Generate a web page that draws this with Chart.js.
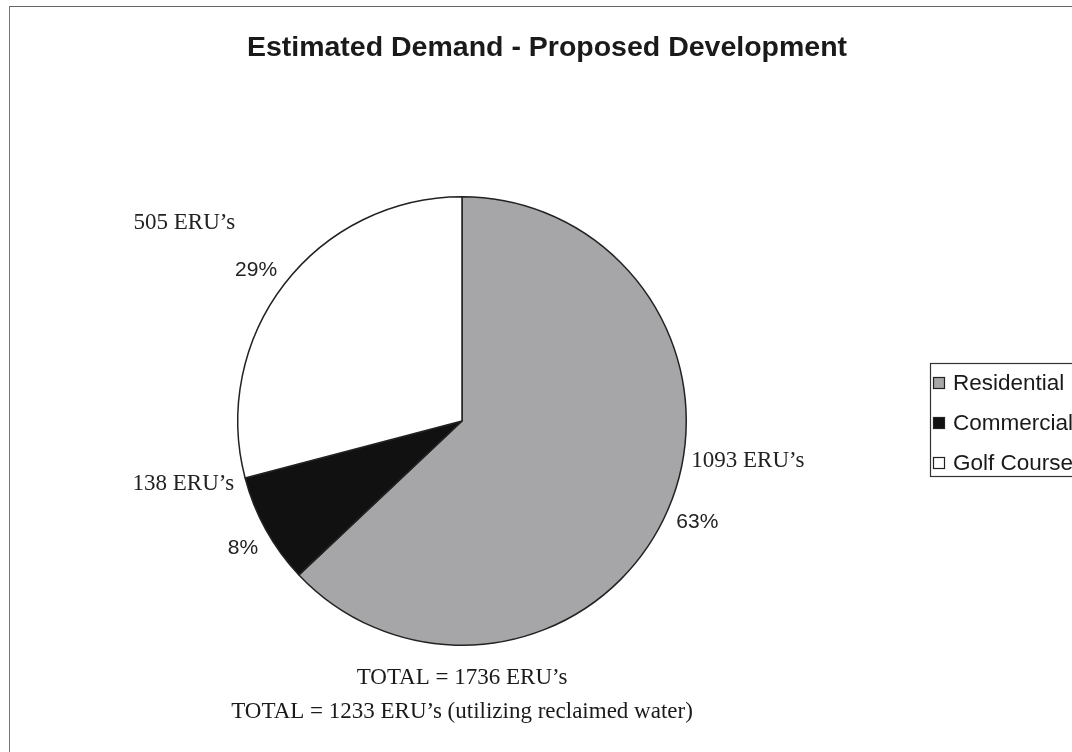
<!DOCTYPE html>
<html>
<head>
<meta charset="utf-8">
<script src="https://cdn.jsdelivr.net/npm/chart.js@4.4.1/dist/chart.umd.min.js"></script>
<style>
  html, body { margin: 0; padding: 0; background: #fff; }
  #wrap { position: relative; width: 1072px; height: 752px; overflow: hidden; }
  #frame { position: absolute; left: 9px; top: 6px; width: 1080px; height: 760px;
           border-top: 1.5px solid #666; border-left: 1.5px solid #777; box-sizing: border-box; }
  canvas { position: absolute; left: 0; top: 0; }
</style>
</head>
<body>
<div id="wrap">
  <div id="frame"></div>
  <canvas id="c" width="1072" height="752"></canvas>
</div>
<script>
const title = "Estimated Demand - Proposed Development";
const categories = ["Residential", "Commercial", "Golf Course"];
const eruValues = [1093, 138, 505];
const eruLabels = ["1093 ERU\u2019s", "138 ERU\u2019s", "505 ERU\u2019s"];
const totalLines = ["TOTAL = 1736 ERU\u2019s", "TOTAL = 1233 ERU\u2019s (utilizing reclaimed water)"];

const sliceColors = ["#a6a6a8", "#111111", "#ffffff"];
// offset of the ERU text relative to the percent label (style/position config)
const eruOffsets = [[15, -62, "left"], [-24, -64, "right"], [-42, -48, "right"]];
// small per-label nudge of the percent labels
const pctNudge = [[0, 0], [5, 3], [-3, 6]];

const total = eruValues.reduce((a, b) => a + b, 0);

const labelPlugin = {
  id: "labels",
  afterDraw(chart) {
    const ctx = chart.ctx;
    const meta = chart.getDatasetMeta(0);
    ctx.save();
    // title
    ctx.fillStyle = "#1a1a1a";
    ctx.font = "bold 28.5px 'Liberation Sans', Arial, sans-serif";
    ctx.textAlign = "center";
    ctx.textBaseline = "middle";
    ctx.fillText(title, 547, 48);

    meta.data.forEach((arc, i) => {
      const p = arc.getProps(["x", "y", "startAngle", "endAngle", "outerRadius"], true);
      const mid = (p.startAngle + p.endAngle) / 2;
      const r = p.outerRadius + 32;
      const px = p.x + Math.cos(mid) * r + pctNudge[i][0];
      const py = p.y + Math.sin(mid) * r + pctNudge[i][1];
      const pct = Math.round(eruValues[i] / total * 100) + "%";
      ctx.font = "21px 'Liberation Sans', Arial, sans-serif";
      ctx.textAlign = "center";
      ctx.textBaseline = "middle";
      ctx.fillStyle = "#222";
      ctx.fillText(pct, px, py);
      const w = ctx.measureText(pct).width;
      const off = eruOffsets[i];
      ctx.font = "23px 'Liberation Serif', 'Times New Roman', serif";
      ctx.textAlign = off[2];
      const ax = off[2] === "left" ? px - w / 2 + off[0] : px + w / 2 + off[0];
      ctx.fillText(eruLabels[i], ax, py + off[1]);
    });

    // totals
    ctx.font = "23px 'Liberation Serif', 'Times New Roman', serif";
    ctx.textAlign = "center";
    ctx.fillStyle = "#1a1a1a";
    ctx.fillText(totalLines[0], 462, 678);
    ctx.fillText(totalLines[1], 462, 712);

    // legend
    ctx.strokeStyle = "#333";
    ctx.lineWidth = 1.2;
    ctx.strokeRect(930.5, 363.5, 160, 113);
    ctx.font = "22.5px 'Liberation Sans', Arial, sans-serif";
    ctx.textAlign = "left";
    categories.forEach((c, i) => {
      const y = 383 + i * 40;
      ctx.fillStyle = sliceColors[i];
      ctx.fillRect(933.5, y - 5.5, 11, 11);
      ctx.strokeStyle = "#222";
      ctx.lineWidth = 1.2;
      ctx.strokeRect(933.5, y - 5.5, 11, 11);
      ctx.fillStyle = "#1a1a1a";
      ctx.fillText(c, 953, y + 1);
    });
    ctx.restore();
  }
};

new Chart(document.getElementById("c"), {
  type: "pie",
  data: {
    labels: categories,
    datasets: [{
      data: eruValues,
      backgroundColor: sliceColors,
      borderColor: "#222",
      borderWidth: 1.5,
      hoverOffset: 0
    }]
  },
  options: {
    responsive: false,
    animation: false,
    events: [],
    layout: { padding: { left: 237, right: 385, top: 196, bottom: 106 } },
    plugins: {
      legend: { display: false },
      title: { display: false },
      tooltip: { enabled: false }
    }
  },
  plugins: [labelPlugin]
});
</script>
</body>
</html>
